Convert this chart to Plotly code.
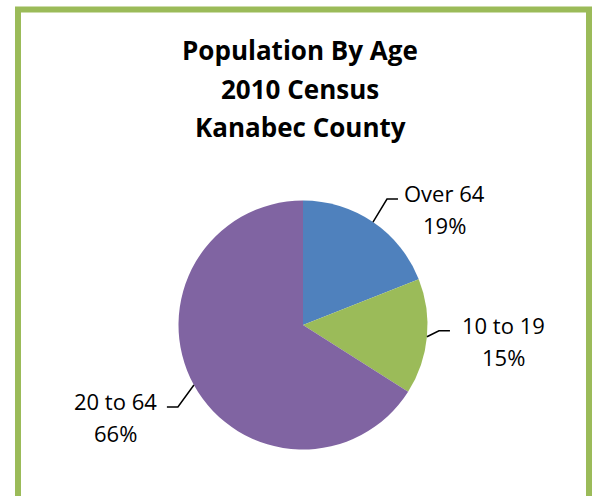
import math
import plotly.graph_objects as go

# ---- data ----
categories = ["Over 64", "10 to 19", "20 to 64"]
percentages = [19, 15, 66]
colors = ["#4F81BD", "#9BBB59", "#8064A2"]
title_lines = ["Population By Age", "2010 Census", "Kanabec County"]

W, H = 597, 496
cx, cy, r = 303, 325, 124.5
FONT = "Open Sans, Lato, sans-serif"

fig = go.Figure()
fig.add_trace(go.Pie(
    labels=categories, values=percentages, sort=False, direction="clockwise",
    rotation=0, textinfo="none", hoverinfo="label+percent",
    marker=dict(colors=colors, line=dict(width=0)),
    domain=dict(x=[(cx - r) / W, (cx + r) / W], y=[1 - (cy + r) / H, 1 - (cy - r) / H]),
    showlegend=False,
))

shapes = []
annotations = []
total = sum(percentages)
cum = 0
# leader-line elbow offsets (layout only)
elbow_offsets = [(14, -23), (12, -6), (-16, 22)]
label_centers = [444.5, 503, 115]
for i, (cat, v) in enumerate(zip(categories, percentages)):
    mid = (cum + v / 2) / total * 2 * math.pi
    cum += v
    dx, dy = math.sin(mid), -math.cos(mid)
    x0, y0 = cx + r * dx, cy + r * dy
    x1, y1 = x0 + elbow_offsets[i][0], y0 + elbow_offsets[i][1]
    side = 1 if dx >= 0 else -1
    x2 = x1 + side * 11
    shapes.append(dict(type="path", xref="x", yref="y",
                       path=f"M{x0},{y0} L{x1},{y1} L{x2},{y1}",
                       line=dict(color="black", width=1.5)))
    for j, line in enumerate([cat, f"{v}%"]):
        annotations.append(dict(
            x=label_centers[i], y=y1 - 6 + 32 * j, xref="x", yref="y",
            xanchor="center", yanchor="middle", text=line, showarrow=False,
            font=dict(family=FONT, size=22, color="black")))

# title
for j, t in enumerate(title_lines):
    annotations.append(dict(
        x=300, y=50 + 38.5 * j, xref="x", yref="y", xanchor="center", yanchor="middle",
        text=f"<b>{t}</b>", showarrow=False,
        font=dict(family=FONT, size=26, color="black")))

# chart border
shapes.append(dict(type="rect", xref="x", yref="y", x0=18, x1=589, y0=9.5, y1=520,
                   line=dict(color="#9BBB59", width=6), fillcolor="rgba(0,0,0,0)",
                   layer="below"))

fig.update_layout(
    width=W, height=H, margin=dict(l=0, r=0, t=0, b=0),
    paper_bgcolor="white", plot_bgcolor="white",
    xaxis=dict(range=[0, W], visible=False, fixedrange=True),
    yaxis=dict(range=[H, 0], visible=False, fixedrange=True),
    shapes=shapes, annotations=annotations,
)
fig.write_html("out.html", config={"displayModeBar": False},
               post_script="document.body.style.margin='0';")
